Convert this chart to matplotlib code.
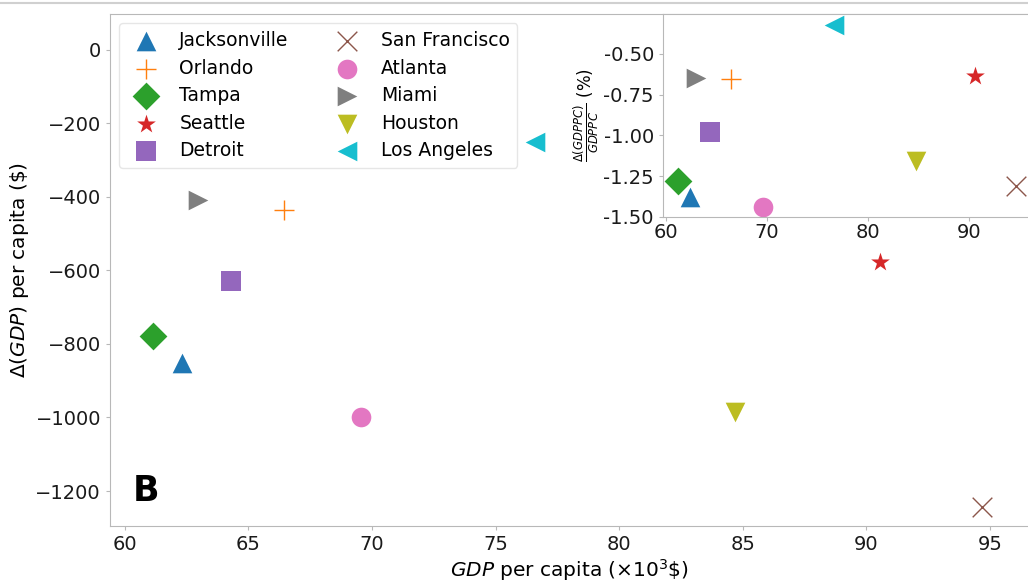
import matplotlib.pyplot as plt
from matplotlib.lines import Line2D

cities = ['Jacksonville', 'Orlando', 'Tampa', 'Seattle', 'Detroit',
          'San Francisco', 'Atlanta', 'Miami', 'Houston', 'Los Angeles']
markers = ['^', '+', 'D', '*', 's', 'x', 'o', '>', 'v', '<']
gdp_pc = [62.33, 66.42, 61.15, 90.55, 64.31, 94.66, 69.56, 62.98, 84.7, 76.6]
delta_gdp_pc = [-852, -437, -778, -577, -629, -1244, -998, -410, -984, -251]
delta_pct = [-1.375, -0.655, -1.28, -0.638, -0.977, -1.312, -1.436,
             -0.650, -1.155, -0.325]

spine_col = '#b8b8b8'
fs = 14


def style_axes(ax):
    for side in ['left', 'bottom', 'top']:
        ax.spines[side].set_color(spine_col)
    ax.spines['right'].set_visible(False)
    ax.tick_params(colors=spine_col, labelcolor='#1a1a1a', labelsize=fs,
                   length=3, width=0.8)


fig = plt.figure(figsize=(10.28, 5.81), dpi=100)

# main axes (right edge cut off like the reference)
ax = fig.add_axes([110 / 1028, 1 - 526 / 581, 918 / 1028, 512 / 581])
for i, c in enumerate(cities):
    lw = 1.0 if markers[i] in ['+', 'x'] else 0
    ax.scatter(gdp_pc[i], delta_gdp_pc[i], marker=markers[i], s=200,
               color='C%d' % i, label=c, linewidths=lw)
ax.set_xlim(59.4, 96.54)
ax.set_ylim(-1295, 97)
ax.set_xticks([60, 65, 70, 75, 80, 85, 90, 95])
ax.set_yticks([0, -200, -400, -600, -800, -1000, -1200])
style_axes(ax)
ax.set_xlabel(r'$GDP$ per capita ($\times10^3$\$)', fontsize=14.5, labelpad=2)
ax.set_ylabel(r'$\Delta(GDP)$ per capita (\$)', fontsize=14.5, labelpad=3)
ax.text(0.025, 0.035, 'B', transform=ax.transAxes, fontsize=25,
        fontweight='bold', ha='left', va='bottom')
leg = ax.legend(ncol=2, loc='upper left', fontsize=13.5, frameon=True,
                bbox_to_anchor=(0.0, 1.0), columnspacing=2.12,
                handletextpad=0.8, labelspacing=0.46, borderpad=0.4)
leg.get_frame().set_edgecolor('#e0e0e0')

# inset
axi = fig.add_axes([663 / 1028, 1 - 217 / 581, 365 / 1028, 203 / 581])
for i, c in enumerate(cities):
    lw = 1.0 if markers[i] in ['+', 'x'] else 0
    axi.scatter(gdp_pc[i], delta_pct[i], marker=markers[i], s=200,
                color='C%d' % i, linewidths=lw)
axi.set_xlim(59.7, 95.8)
axi.set_ylim(-1.495, -0.257)
axi.set_xticks([60, 70, 80, 90])
axi.set_yticks([-0.5, -0.75, -1.0, -1.25, -1.5])
axi.set_yticklabels(['%.2f' % v for v in [-0.5, -0.75, -1.0, -1.25, -1.5]])
style_axes(axi)
axi.tick_params(axis='x', pad=1)
axi.set_ylabel(r'$\frac{\Delta(GDPPC)}{GDPPC}$ (%)', fontsize=12, labelpad=2)

# thin border line at the very top of the image
fig.add_artist(Line2D([0, 1], [1 - 3 / 581, 1 - 3 / 581],
                      transform=fig.transFigure, color='#d0d0d0', lw=1.5))

fig.savefig('out.png', dpi=100)
